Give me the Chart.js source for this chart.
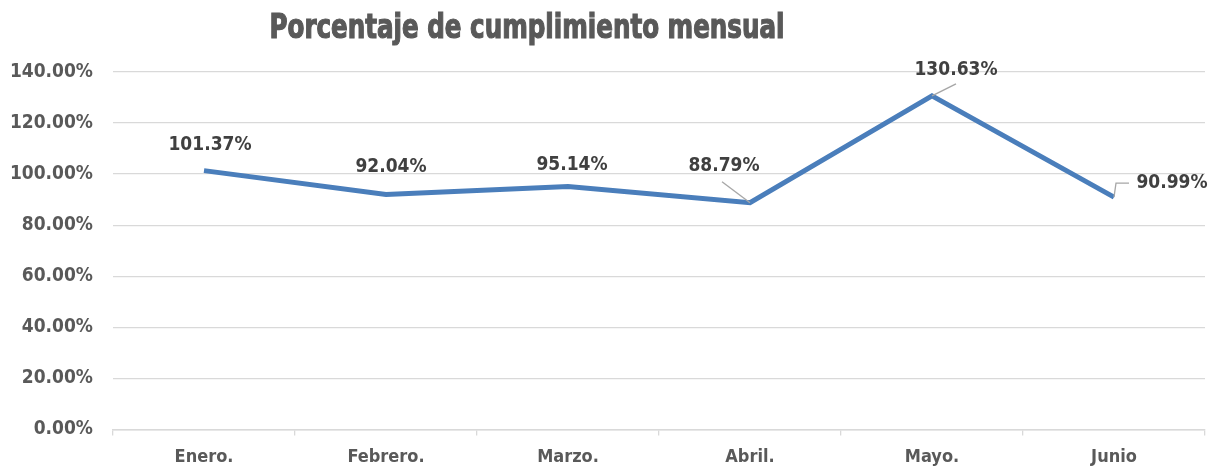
<!DOCTYPE html>
<html><head><meta charset="utf-8">
<script src="https://cdn.jsdelivr.net/npm/chart.js@4"></script>
<style>html,body{margin:0;padding:0;background:#fff}#wrap{width:1210px;height:467px}</style>
</head><body><div id="wrap"><canvas id="c" width="1210" height="467"></canvas></div>
<script>
const categories = ['Enero.', 'Febrero.', 'Marzo.', 'Abril.', 'Mayo.', 'Junio'];
const cumplimiento = [101.37, 92.04, 95.14, 88.79, 130.63, 90.99];
const yTicks = [0, 20, 40, 60, 80, 100, 120, 140];
const titleText = 'Porcentaje de cumplimiento mensual';

const FONT = '"Liberation Sans Narrow", "DejaVu Sans Condensed", "Roboto Condensed", sans-serif';
// label placement (style): dx, dy from point, leader type
const labelPlace = [
  {dx: 6, dy: -26, leader: null},
  {dx: 5, dy: -27, leader: null},
  {dx: 4, dy: -21, leader: null},
  {dx: -26, dy: -37, leader: 'diag'},
  {dx: 24, dy: -26, leader: 'diag'},
  {dx: 58, dy: -14, leader: 'elbow'}
];

const titlePlugin = {
  id: 'customTitle',
  afterDraw(chart) {
    const ctx = chart.ctx;
    ctx.save();
    ctx.font = 'bold 34px ' + FONT;
    ctx.fillStyle = '#595959';
    ctx.strokeStyle = '#595959';
    ctx.lineWidth = 1.2;
    ctx.textAlign = 'center';
    ctx.textBaseline = 'middle';
    const w = ctx.measureText(titleText).width;
    const sx = 515 / w;
    ctx.translate(527, 29);
    ctx.scale(sx, 1);
    ctx.fillText(titleText, 0, 0);
    ctx.strokeText(titleText, 0, 0);
    ctx.restore();
  }
};

const labelPlugin = {
  id: 'valueLabels',
  afterDatasetsDraw(chart) {
    const ctx = chart.ctx;
    const meta = chart.getDatasetMeta(0);
    ctx.save();
    ctx.font = 'bold 19px ' + FONT;
    ctx.fillStyle = '#404040';
    ctx.textAlign = 'center';
    ctx.textBaseline = 'middle';
    meta.data.forEach((pt, i) => {
      const p = labelPlace[i];
      const lx = pt.x + p.dx, ly = pt.y + p.dy;
      const txt = cumplimiento[i].toFixed(2) + '%';
      ctx.strokeStyle = '#A6A6A6';
      ctx.lineWidth = 1.3;
      if (p.leader === 'diag') {
        ctx.beginPath();
        if (i === 3) { ctx.moveTo(lx - 2, ly + 16); ctx.lineTo(pt.x, pt.y); }
        else { ctx.moveTo(pt.x, pt.y); ctx.lineTo(pt.x + 24, pt.y - 12); }
        ctx.stroke();
      } else if (p.leader === 'elbow') {
        ctx.beginPath();
        ctx.moveTo(pt.x, pt.y);
        ctx.lineTo(pt.x + 2, ly);
        ctx.lineTo(pt.x + 15, ly);
        ctx.stroke();
      }
      ctx.fillText(txt, lx, ly);
    });
    ctx.restore();
  }
};

new Chart(document.getElementById('c'), {
  type: 'line',
  data: {
    labels: categories,
    datasets: [{
      data: cumplimiento,
      borderColor: '#4A7EBB',
      borderWidth: 5,
      pointRadius: 0,
      tension: 0,
      fill: false,
      borderJoinStyle: 'miter'
    }]
  },
  options: {
    responsive: false,
    animation: false,
    devicePixelRatio: 1,
    layout: {padding: {top: 72, right: 5, left: 0, bottom: 0}},
    plugins: {legend: {display: false}, tooltip: {enabled: false}, title: {display: false}},
    scales: {
      x: {
        offset: true,
        grid: {display: true, drawOnChartArea: false, drawTicks: true, tickLength: 6, color: '#D9D9D9', lineWidth: 1.3, offset: true},
        border: {display: true, color: '#D9D9D9', width: 1.5},
        ticks: {color: '#595959', font: {family: FONT, size: 18, weight: 'bold'}, padding: 11, maxRotation: 0},
        afterFit(s) { s.height = 37.5; }
      },
      y: {
        min: 0, max: 140,
        afterBuildTicks(s) { s.ticks = yTicks.map(v => ({value: v})); },
        grid: {color: '#D9D9D9', lineWidth: 1.3, drawTicks: false},
        border: {display: false},
        ticks: {color: '#595959', font: {family: FONT, size: 19, weight: 'bold'}, padding: 20,
          callback: v => Number(v).toFixed(2) + '%'},
        afterFit(s) { s.width = 113; }
      }
    }
  },
  plugins: [titlePlugin, labelPlugin]
});
</script></body></html>
